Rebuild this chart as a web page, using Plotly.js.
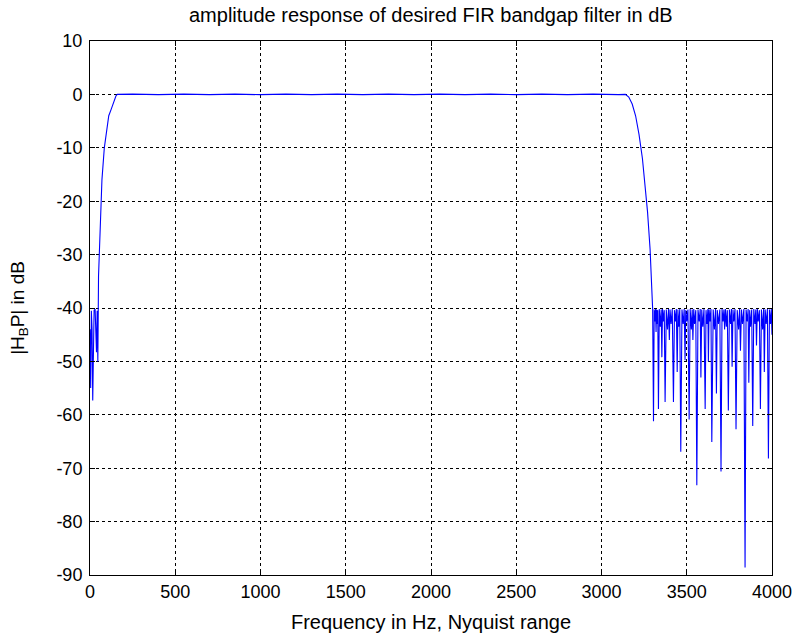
<!DOCTYPE html>
<html>
<head>
<meta charset="utf-8">
<script src="https://cdn.plot.ly/plotly-3.0.1.min.js"></script>
<style>
  html, body { margin: 0; padding: 0; background: #ffffff; }
  #chart { width: 794px; height: 634px; }
</style>
</head>
<body>
<div id="chart"></div>
<script>
// ---- data ----
// low stopband and lower transition (Hz, dB)
const lowFreq = [0, 4, 8, 12, 16, 20, 24, 30, 34, 38, 42, 46, 50, 55, 59, 64, 70, 84, 98, 110, 123, 140, 152, 160];
const lowDb   = [-44, -55, -40.5, -44, -57.3, -46, -40.4, -40.2, -47.5, -48.3, -40.5, -50, -34, -30, -24.5, -20, -16, -10, -6.4, -4, -2.9, -1.2, -0.3, 0];

// passband (Hz, dB)
const passFreq = [250, 400, 550, 700, 850, 1000, 1150, 1300, 1450, 1600, 1750, 1900, 2050, 2200, 2350, 2500, 2650, 2800, 2950, 3100, 3140];
const passDb   = [0.05, -0.05, 0.05, -0.05, 0.05, -0.05, 0.05, -0.05, 0.05, -0.05, 0.05, -0.05, 0.05, -0.05, 0.05, -0.05, 0.05, -0.05, 0.05, -0.05, 0];

// upper transition (Hz, dB)
const transFreq = [3160, 3180, 3200, 3220, 3240, 3255, 3270, 3285, 3295, 3300];
const transDb   = [-0.5, -1.8, -4, -7.5, -12, -16.5, -22, -29, -35, -40.2];

// high stopband (Hz, dB)
const highFreq = [
  3305, 3309, 3313, 3317, 3320, 3323, 3326, 3330,
  3334, 3339, 3345, 3350, 3354, 3358, 3362, 3368,
  3373, 3380, 3387, 3393, 3398, 3402, 3408, 3415,
  3422, 3428, 3434, 3439, 3444, 3448, 3453, 3459,
  3465, 3472, 3479, 3485, 3490, 3494, 3500, 3507,
  3514, 3520, 3527, 3532, 3536, 3541, 3546, 3553,
  3559, 3566, 3573, 3579, 3583, 3588, 3594, 3601,
  3608, 3613, 3619, 3624, 3627, 3631, 3636, 3642,
  3647, 3655, 3662, 3669, 3674, 3679, 3686, 3694,
  3701, 3707, 3713, 3718, 3722, 3727, 3732, 3738,
  3744, 3750, 3757, 3762, 3766, 3771, 3776, 3783,
  3789, 3796, 3804, 3810, 3815, 3821, 3827, 3835,
  3842, 3848, 3855, 3860, 3864, 3869, 3874, 3881,
  3887, 3893, 3900, 3905, 3909, 3914, 3919, 3926,
  3932, 3938, 3945, 3951, 3955, 3960, 3966, 3973,
  3979, 3985, 3991, 3996, 4000];
const highDb = [
  -61.2, -40.3, -42.5, -40.2, -44.5, -40.3, -43, -40.4,
  -58.9, -40.2, -43.5, -40.3, -49.2, -40.2, -42.5, -40.4,
  -57.6, -40.3, -44, -40.2, -46, -40.3, -43, -40.2,
  -57.6, -40.4, -42.5, -40.2, -52, -40.3, -43.5, -40.2,
  -66.9, -40.3, -43, -40.2, -49.8, -40.4, -42.5, -40.3,
  -60.9, -40.2, -44, -40.3, -46, -40.2, -43, -40.4,
  -73.2, -40.3, -42.5, -40.2, -53, -40.3, -43.5, -40.2,
  -58.9, -40.4, -43, -40.2, -50, -40.3, -42.5, -40.2,
  -65.1, -40.3, -44, -40.2, -56, -40.4, -43, -40.3,
  -70.6, -40.2, -42.5, -40.3, -44, -40.2, -43.5, -40.4,
  -59.2, -40.3, -43, -40.2, -51, -40.3, -42.5, -40.2,
  -62.7, -40.4, -44, -40.2, -48, -40.3, -43, -40.2,
  -88.6, -40.3, -42.5, -40.2, -54, -40.4, -43.5, -40.3,
  -62.1, -40.2, -43, -40.3, -47, -40.2, -42.5, -40.4,
  -58.9, -40.3, -44, -40.2, -52, -40.3, -43, -40.2,
  -68.2, -40.3, -43, -40.2, -45];

const xTicks = [0, 500, 1000, 1500, 2000, 2500, 3000, 3500, 4000];
const yTicks = [10, 0, -10, -20, -30, -40, -50, -60, -70, -80, -90];

const freq = lowFreq.concat(passFreq, transFreq, highFreq);
const gain = lowDb.concat(passDb, transDb, highDb);

const fontFam = 'Liberation Sans, Arial, sans-serif';

const trace = {
  x: freq, y: gain, type: 'scatter', mode: 'lines',
  line: { color: '#0000ff', width: 1.1 },
  hoverinfo: 'skip', showlegend: false
};

const axisCommon = {
  showline: true, linecolor: '#000000', linewidth: 1, mirror: 'ticks',
  ticks: 'inside', ticklen: 5, tickcolor: '#000000', tickwidth: 1,
  showgrid: true, gridcolor: '#000000', gridwidth: 1, griddash: '3px,3px',
  zeroline: false,
  tickfont: { family: fontFam, size: 18, color: '#000000' }
};

const layout = {
  width: 794, height: 634,
  margin: { l: 90, r: 22, t: 41, b: 59 },
  paper_bgcolor: '#ffffff', plot_bgcolor: '#ffffff',
  title: {
    text: 'amplitude response of desired FIR bandgap filter in dB',
    font: { family: fontFam, size: 20, color: '#000000' },
    x: 0.5426, xanchor: 'center', y: 0.976, yanchor: 'middle'
  },
  xaxis: Object.assign({}, axisCommon, {
    range: [0, 4000], tickvals: xTicks, ticktext: xTicks.map(String),
    title: { text: 'Frequency in Hz, Nyquist range', font: { family: fontFam, size: 20, color: '#000000' }, standoff: 14 }
  }),
  yaxis: Object.assign({}, axisCommon, {
    range: [-90, 10], tickvals: yTicks, ticktext: yTicks.map(String), ticklabelstandoff: 3,
    title: { text: '|H<sub>B</sub>P| in dB', font: { family: fontFam, size: 19, color: '#000000' }, standoff: 26 }
  })
};

Plotly.newPlot('chart', [trace], layout, { staticPlot: true, displayModeBar: false });
</script>
</body>
</html>
